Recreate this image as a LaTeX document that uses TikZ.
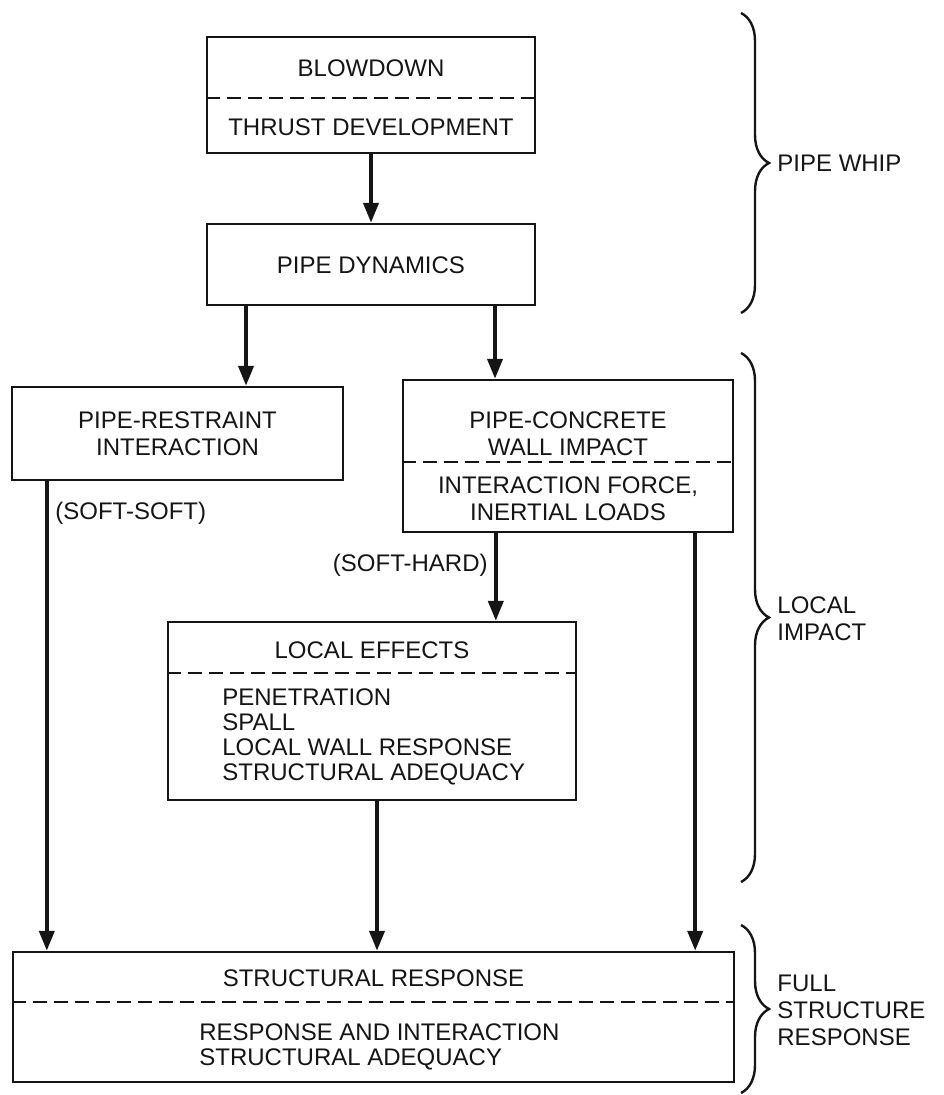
\documentclass[tikz,border=0pt]{standalone}
\usepackage{fontspec}
\setmainfont{Liberation Sans}
\usepackage{tikz}
\usetikzlibrary{arrows.meta, positioning, calc, decorations.pathreplacing}
\definecolor{DiagInk}{HTML}{151515}
\tikzset{
    % Box styles
    stagebox/.style={
        rectangle,
        draw=DiagInk,
        line width=1.2pt,
        fill=white,
        inner sep=0pt
    },
    boxtext/.style={
        inner sep=0pt,
        align=center,
        text=DiagInk,
        font=\fontsize{12}{13.5}\selectfont
    },
    listtext/.style={
        inner sep=0pt,
        anchor=west,
        align=left,
        text=DiagInk,
        font=\fontsize{12}{12.5}\selectfont
    },
    divider/.style={
        draw=DiagInk,
        line width=1.2pt,
        dash pattern=on 7pt off 3.5pt
    },
    % Arrow styles
    flowarrow/.style={
        -{Triangle[length=10pt,width=7.5pt]},
        line width=2pt,
        DiagInk
    },
    tagtext/.style={
        inner sep=0pt,
        text=DiagInk,
        font=\fontsize{12}{13.5}\selectfont
    },
    % Brace styles
    groupbrace/.style={
        decorate,
        decoration={brace, amplitude=14pt},
        line width=1.2pt,
        DiagInk
    },
    grouplabel/.style={
        inner sep=0pt,
        anchor=west,
        align=left,
        text=DiagInk,
        font=\fontsize{12}{13.5}\selectfont
    }
}

\begin{document}
\begin{tikzpicture}[x=0.5pt, y=-0.5pt]
    \useasboundingbox (0,0) rectangle (943,1095);

    % boxes
    \node[stagebox, minimum width=164pt, minimum height=58pt] (blowdown) at (371,95) {};
    \node[stagebox, minimum width=164pt, minimum height=40.5pt] (dynamics) at (371,264.5) {};
    \node[stagebox, minimum width=165.5pt, minimum height=46.5pt] (restraint) at (177.5,433.5) {};
    \node[stagebox, minimum width=165pt, minimum height=76pt] (concrete) at (568,456) {};
    \node[stagebox, minimum width=204pt, minimum height=89pt] (localfx) at (372,711) {};
    \node[stagebox, minimum width=360.5pt, minimum height=65pt] (structural) at (373.5,1017) {};

    % box texts
    \node[boxtext] (blowtitle) at (371,68) {BLOWDOWN};
    \node[boxtext] (blowsub) at (371,127) {THRUST DEVELOPMENT};
    \node[boxtext] (dyntitle) at (371,265) {PIPE DYNAMICS};
    \node[boxtext] (restitle) at (177.5,434) {PIPE-RESTRAINT\\INTERACTION};
    \node[boxtext] (contitle) at (568,433.5) {PIPE-CONCRETE\\WALL IMPACT};
    \node[boxtext] (consub) at (568,499) {INTERACTION FORCE,\\INERTIAL LOADS};
    \node[boxtext] (loctitle) at (372,650) {LOCAL EFFECTS};
    \node[listtext] (loclist) at (222,736.5) {PENETRATION\\SPALL\\LOCAL WALL RESPONSE\\STRUCTURAL ADEQUACY};
    \node[boxtext] (strtitle) at (373.5,978) {STRUCTURAL RESPONSE};
    \node[listtext] (strlist) at (199,1046.5) {RESPONSE AND INTERACTION\\STRUCTURAL ADEQUACY};

    % dashed dividers
    \draw[divider] (blowdown.west |- 0,98) -- (blowdown.east |- 0,98);
    \draw[divider] (concrete.west |- 0,462) -- (concrete.east |- 0,462);
    \draw[divider] (localfx.west |- 0,673) -- (localfx.east |- 0,673);
    \draw[divider] (structural.west |- 0,1002) -- (structural.east |- 0,1002);

    % arrows
    \draw[flowarrow] (blowdown) -- (dynamics);
    \draw[flowarrow] ([xshift=-62.5pt]dynamics.south) -- ([xshift=-62.5pt]dynamics.south |- restraint.north);
    \draw[flowarrow] ([xshift=62pt]dynamics.south) -- ([xshift=62pt]dynamics.south |- concrete.north);
    \draw[flowarrow] ([xshift=18pt]restraint.south west) -- ([xshift=18pt]restraint.south west |- structural.north);
    \draw[flowarrow] ([xshift=47pt]concrete.south west) -- ([xshift=47pt]concrete.south west |- localfx.north);
    \draw[flowarrow] ([xshift=2.5pt]localfx.south) -- ([xshift=2.5pt]localfx.south |- structural.north);
    \draw[flowarrow] ([xshift=-19.5pt]concrete.south east) -- ([xshift=-19.5pt]concrete.south east |- structural.north);

    % arrow tags
    \node[tagtext, anchor=west] (softsoft) at (55,513) {(SOFT-SOFT)};
    \node[tagtext, anchor=east] (softhard) at (488,565) {(SOFT-HARD)};

    % braces
    \draw[groupbrace] (741,13) -- (741,313);
    \draw[groupbrace] (741,353) -- (741,882);
    \draw[groupbrace] (741,925) -- (741,1093);
    \node[grouplabel] (whiplabel) at (777,163) {PIPE WHIP};
    \node[grouplabel] (impactlabel) at (777,619) {LOCAL\\IMPACT};
    \node[grouplabel] (fulllabel) at (777,1010) {FULL\\STRUCTURE\\RESPONSE};
\end{tikzpicture}
\end{document}
